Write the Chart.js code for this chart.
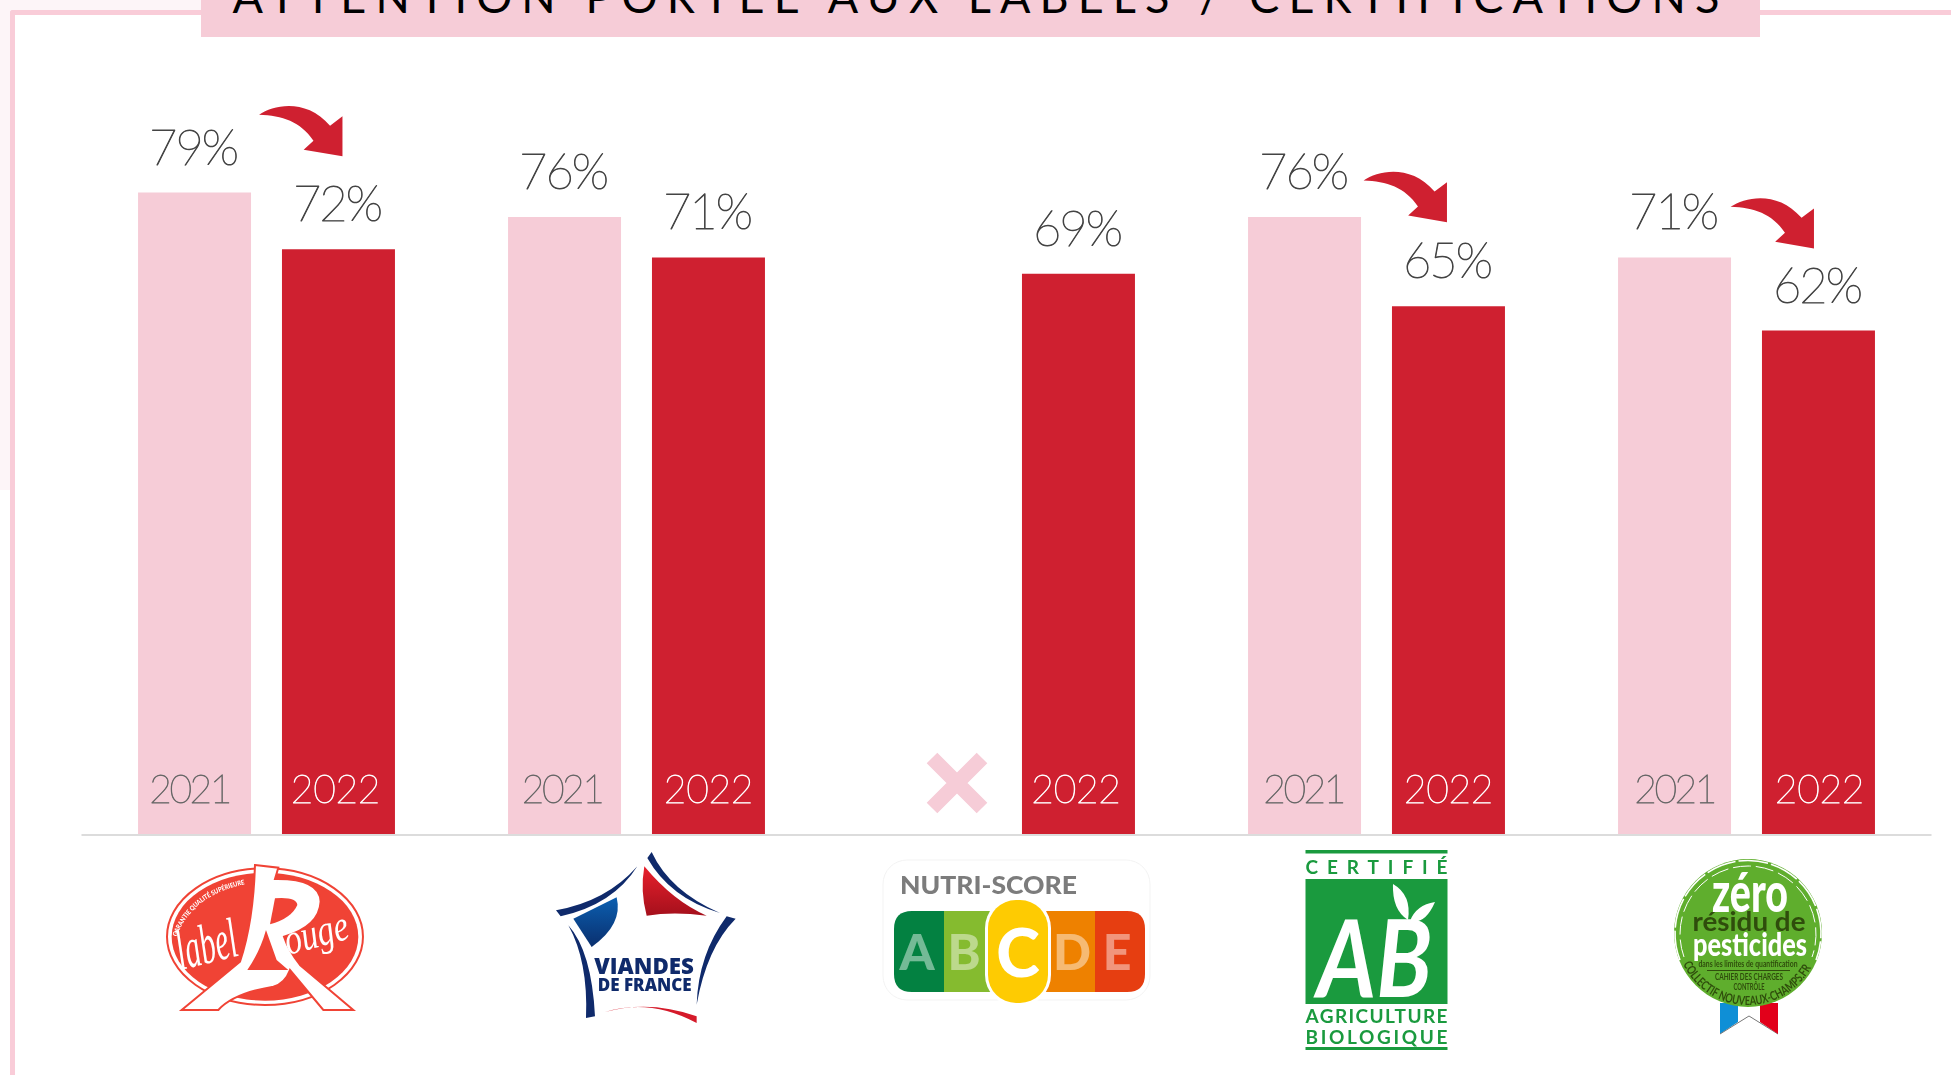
<!DOCTYPE html>
<html lang="fr">
<head>
<meta charset="UTF-8">
<title>Attention portée aux labels / certifications</title>
<script src="https://cdn.jsdelivr.net/npm/chart.js"></script>
<style>
  html, body { margin: 0; padding: 0; background: #fff; overflow: hidden; }
  #page { position: relative; width: 1951px; height: 1075px; background: #fff; overflow: hidden; }
  #teinte { position: absolute; left: 0; top: 0; width: 201px; height: 490px; background: #fdf5f8; }
  #frame { position: absolute; left: 10px; top: 10px; width: 1941px; height: 1065px; box-sizing: border-box;
    border-left: 5.5px solid #f9ccd8; border-top: 5px solid #f9ccd8; background: #fff; border-top-left-radius: 3px; }
  #titre { position: absolute; left: 201px; top: -20px; width: 1559px; height: 57px; background: #f6ccd7; }
  #titre span { position: absolute; left: 0; right: 0; bottom: 18px; text-align: center; white-space: nowrap;
    font: 400 45px/1 Lato, sans-serif; letter-spacing: 9.1px; color: #000; }
  canvas { position: absolute; left: 0; top: 0; }
  svg { position: absolute; left: 0; top: 0; }
</style>
</head>
<body>
<div id="page">
  <div id="teinte"></div>
  <div id="frame"></div>
  <canvas id="chart" width="1951" height="1075"></canvas>
  <div id="titre"><span>ATTENTION PORTÉE AUX LABELS / CERTIFICATIONS</span></div>

  <svg width="1951" height="1075" viewBox="0 0 1951 1075" font-family="Lato, sans-serif">
    <defs>
      <linearGradient id="bleu" x1="0" y1="0" x2="0" y2="1"><stop offset="0" stop-color="#0b5fb0"/><stop offset="1" stop-color="#0a2f6e"/></linearGradient>
      <linearGradient id="rouge" x1="0" y1="0" x2="0" y2="1"><stop offset="0" stop-color="#e8202c"/><stop offset="1" stop-color="#a5101c"/></linearGradient>
    </defs>

    <!-- Label Rouge -->
    <g transform="translate(160 855) scale(.3333)">
      <ellipse cx="315" cy="245" rx="294" ry="205" fill="#fff" stroke="#f04335" stroke-width="6"/>
      <ellipse cx="315" cy="245" rx="280" ry="192" fill="#f04335"/>
      <path d="M285 30 L355 38 L345 72 Q480 70 482 140 Q478 215 372 245 Q385 285 420 330 L580 465 L490 465 L390 345 Q375 385 340 395 Q220 415 175 465 L65 465 L240 320 Q280 200 285 30 Z" fill="#fff" stroke="#f04335" stroke-width="6"/>
      <path d="M345 130 Q410 125 412 150 Q395 190 330 208 Z" fill="#f04335"/>
      <path d="M318 225 L350 315 L385 345 L262 345 Q300 290 318 225 Z" fill="#f04335"/>
      <text x="62" y="345" fill="#fff" font-family="Liberation Serif, serif" font-style="italic" font-size="170" transform="rotate(-14 62 345)" textLength="185" lengthAdjust="spacingAndGlyphs">label</text>
      <text x="385" y="300" fill="#fff" font-family="Liberation Serif, serif" font-style="italic" font-size="130" transform="rotate(-15 385 300)" textLength="195" lengthAdjust="spacingAndGlyphs">ouge</text>
      <path id="garantie" d="M50 245 Q100 110 285 82" fill="none"/>
      <text fill="#fff" font-weight="900" font-size="20"><textPath href="#garantie" textLength="270" lengthAdjust="spacingAndGlyphs">GARANTIE QUALITÉ SUPÉRIEURE</textPath></text>
    </g>

    <!-- Viandes de France -->
    <g transform="translate(550 848) scale(.3333)">
      <path d="M18 187 Q170 160 262 55 Q190 170 32 205 Z" fill="#0f2a6b"/>
      <path d="M292 30 L305 12 Q360 130 510 195 Q360 150 292 30 Z" fill="#0f2a6b"/>
      <path d="M530 205 L557 212 Q470 300 440 470 Q445 320 530 205 Z" fill="#0f2a6b"/>
      <path d="M55 232 Q125 310 135 505 L108 510 Q115 340 55 232 Z" fill="#0f2a6b"/>
      <path d="M70 212 L200 148 Q220 230 125 297 Z" fill="url(#bleu)"/>
      <path d="M283 55 Q370 160 470 203 Q370 190 290 203 Q270 130 283 55 Z" fill="url(#rouge)"/>
      <path d="M165 492 Q300 450 440 525 L440 505 Q300 455 165 492 Z" fill="#d51a2a"/>
      <text x="133" y="378" fill="#0f2a6b" font-family="Open Sans, sans-serif" font-weight="800" font-size="70" textLength="299" lengthAdjust="spacingAndGlyphs">VIANDES</text>
      <text x="143" y="428" fill="#0f2a6b" font-family="Open Sans, sans-serif" font-weight="800" font-size="50" textLength="282" lengthAdjust="spacingAndGlyphs">DE FRANCE</text>
    </g>

    <!-- Nutri-Score -->
    <rect x="883" y="860" width="267" height="140" rx="24" fill="#fff" stroke="#f3f3f3"/>
    <text x="900" y="894" fill="#7c7c7c" font-weight="900" font-size="25" textLength="177" lengthAdjust="spacingAndGlyphs">NUTRI-SCORE</text>
    <path d="M912 911 H944 V992 H912 Q894 992 894 974 V929 Q894 911 912 911 Z" fill="#038141"/>
    <rect x="944" y="911" width="52" height="81" fill="#85bb2f"/>
    <rect x="1041" y="911" width="54" height="81" fill="#ee8100"/>
    <path d="M1095 911 H1127 Q1145 911 1145 929 V974 Q1145 992 1127 992 H1095 Z" fill="#e63e11"/>
    <rect x="985" y="897" width="66" height="109" rx="31" fill="#fff"/>
    <rect x="988" y="900" width="60" height="103" rx="28" fill="#fecb02"/>
    <g font-weight="900" font-size="50" text-anchor="middle">
      <text x="917" y="970" fill="#fff" fill-opacity=".45">A</text>
      <text x="964" y="970" fill="#fff" fill-opacity=".45">B</text>
      <text x="1018" y="977" fill="#fff" font-size="66">C</text>
      <text x="1072" y="970" fill="#fff" fill-opacity=".45">D</text>
      <text x="1117" y="970" fill="#fff" fill-opacity=".45">E</text>
    </g>

    <!-- AB -->
    <rect x="1305.5" y="850" width="142" height="3.5" fill="#1a9a3e"/>
    <text x="1305.5" y="874" fill="#1a9a3e" font-weight="700" font-size="19" textLength="142">CERTIFIÉ</text>
    <rect x="1305.5" y="879" width="142" height="125" fill="#1a9a3e"/>
    <text x="1305.5" y="1023" fill="#1a9a3e" font-weight="700" font-size="19" textLength="142">AGRICULTURE</text>
    <text x="1305.5" y="1044" fill="#1a9a3e" font-weight="700" font-size="19" textLength="142">BIOLOGIQUE</text>
    <rect x="1305.5" y="1047" width="142" height="3" fill="#1a9a3e"/>
    <text x="1317" y="997" fill="#fff" font-family="Lato, sans-serif" font-style="italic" font-weight="700" font-size="108" textLength="115" lengthAdjust="spacingAndGlyphs">AB</text>
    <path d="M1393 884 Q1412 895 1408 920 Q1392 910 1393 884 Z M1435 902 Q1425 925 1410 921 Q1416 905 1435 902 Z" fill="#fff"/>

    <!-- Zero residu -->
    <path d="M1720 1003 H1738 V1022 L1720 1034 Z" fill="#0f8fd6"/>
    <path d="M1738 1003 H1760 V1022 L1749 1016 L1738 1022 Z" fill="#fff"/>
    <path d="M1720 1034 L1749 1016 L1778 1034" fill="none" stroke="#777" stroke-width="1"/>
    <path d="M1760 1003 H1778 V1034 L1760 1022 Z" fill="#e2001a"/>
    <circle cx="1748" cy="933" r="74" fill="#5fae2d"/>
    <path d="M1680 960 A73 73 0 1 1 1816 960" fill="none" stroke="#fff" stroke-width="1.6" stroke-dasharray="30 3"/>
    <path d="M1684 957 A68 68 0 1 1 1812 957" fill="none" stroke="#fff" stroke-width="1" stroke-dasharray="18 5"/>
    <text x="1750" y="912" fill="#fff" font-weight="900" font-size="56" text-anchor="middle" textLength="76" lengthAdjust="spacingAndGlyphs">zéro</text>
    <text x="1749" y="931" fill="#2f4d0c" font-weight="700" font-size="27" text-anchor="middle" textLength="113" lengthAdjust="spacingAndGlyphs">résidu de</text>
    <text x="1750" y="956" fill="#fff" font-weight="900" font-size="33" text-anchor="middle" textLength="114" lengthAdjust="spacingAndGlyphs">pesticides</text>
    <text x="1748" y="967" fill="#2f4d0c" font-weight="700" font-size="10" text-anchor="middle" textLength="99" lengthAdjust="spacingAndGlyphs">dans les limites de quantification</text>
    <rect x="1707" y="970" width="83" height="1" fill="#2f4d0c"/>
    <text x="1749" y="980" fill="#2f4d0c" font-weight="700" font-size="9.5" text-anchor="middle" textLength="68" lengthAdjust="spacingAndGlyphs">CAHIER DES CHARGES</text>
    <text x="1749" y="990" fill="#2f4d0c" font-weight="700" font-size="9.5" text-anchor="middle" textLength="31" lengthAdjust="spacingAndGlyphs">CONTRÔLE</text>
    <path id="courbe" d="M1683 964 A72 72 0 0 0 1813 964" fill="none"/>
    <text fill="#2f4d0c" font-weight="700" font-size="12.5"><textPath href="#courbe" textLength="158" lengthAdjust="spacingAndGlyphs">COLLECTIF NOUVEAUX-CHAMPS.FR</textPath></text>
  </svg>
</div>

<script>
// valeurs
const labels = ['Label Rouge', 'Viandes de France', 'Nutri-Score', 'Agriculture biologique', 'Zéro résidu de pesticides'];
const seriesNames = ['2021', '2022'];
const values2021 = [79, 76, null, 76, 71];
const values2022 = [72, 71, 69, 65, 62];

const pink = '#f6ccd7';
const red = '#cf2030';
const labelFont = '200 49px Lato, sans-serif';
const yearFont = '200 39px Lato, sans-serif';

// petit decalage des annees par rapport au centre des barres
const yearShift = [[-5, -2.5, 0, -1, 0], [-3, 0, -2.5, 0, 1]];

// fleche de baisse, dessinee depuis sa pointe (bas droite)
function drawArrow(ctx, x, y) {
  ctx.save();
  ctx.translate(x, y);
  ctx.fillStyle = red;
  ctx.beginPath();
  ctx.moveTo(-83.4, -41.7);
  ctx.bezierCurveTo(-68, -52, -36, -58, -12.4, -30.7);
  ctx.lineTo(0, -40);
  ctx.lineTo(0, 0);
  ctx.lineTo(-38.8, -6.7);
  ctx.lineTo(-29, -15.7);
  ctx.bezierCurveTo(-42, -35, -60, -41, -83.4, -41.7);
  ctx.closePath();
  ctx.fill();
  ctx.restore();
}

// fleches : categorie, decalage de la pointe par rapport au haut de la barre 2022
const arrows = [[0, 4, -93], [3, -1.5, -84], [4, -4.5, -82]];

// la police la plus fine est trop maigre seule, on l'epaissit d'un trait
function thinText(ctx, text, x, y, color, weight) {
  ctx.fillStyle = color;
  ctx.strokeStyle = color;
  ctx.lineWidth = weight;
  ctx.lineJoin = 'round';
  ctx.fillText(text, x, y);
  ctx.strokeText(text, x, y);
}

const decorations = {
  id: 'decorations',
  afterDatasetsDraw(chart) {
    const ctx = chart.ctx;
    const x = chart.scales.x, y = chart.scales.y;
    const bars2021 = chart.getDatasetMeta(0).data;
    const bars2022 = chart.getDatasetMeta(1).data;

    // ligne de base
    ctx.fillStyle = '#dcdcdc';
    ctx.fillRect(x.left, y.getPixelForValue(0), x.right - x.left, 2);

    ctx.textAlign = 'center';
    ctx.textBaseline = 'alphabetic';
    const base = y.getPixelForValue(0);

    [values2021, values2022].forEach((serie, s) => {
      const bars = s === 0 ? bars2021 : bars2022;
      serie.forEach((v, i) => {
        if (v === null) return;
        ctx.font = labelFont;
        ctx.letterSpacing = '-2px';
        thinText(ctx, v + '%', bars[i].x - 1.5, bars[i].y - 28, '#444', 0.9);
        ctx.font = yearFont;
        ctx.letterSpacing = s === 0 ? '-2.5px' : '-0.3px';
        thinText(ctx, seriesNames[s], bars[i].x + yearShift[s][i], base - 31, s === 0 ? '#666' : '#fff', 0.8);
      });
    });
    ctx.letterSpacing = '0px';

    // croix : pas de valeur 2021 pour le Nutri-Score
    const cx = x.getPixelForValue(2) - 49.5, cy = base - 51;
    ctx.strokeStyle = pink;
    ctx.lineWidth = 15;
    ctx.beginPath();
    ctx.moveTo(cx - 25, cy - 25); ctx.lineTo(cx + 25, cy + 25);
    ctx.moveTo(cx + 25, cy - 25); ctx.lineTo(cx - 25, cy + 25);
    ctx.stroke();

    arrows.forEach(([i, dx, dy]) => drawArrow(ctx, bars2022[i].x + dx, bars2022[i].y + dy));
  }
};

new Chart(document.getElementById('chart'), {
  type: 'bar',
  data: {
    labels: labels,
    datasets: [
      { label: seriesNames[0], data: values2021, backgroundColor: pink },
      { label: seriesNames[1], data: values2022, backgroundColor: red }
    ]
  },
  options: {
    responsive: false,
    animation: false,
    categoryPercentage: 0.778,
    barPercentage: 0.785,
    layout: { padding: { left: 81.5, right: 19.5, top: 22, bottom: 241 } },
    plugins: { legend: { display: false }, tooltip: { enabled: false } },
    scales: {
      x: { display: false },
      y: { display: false, min: 0, max: 100 }
    }
  },
  plugins: [decorations]
});
</script>
</body>
</html>
